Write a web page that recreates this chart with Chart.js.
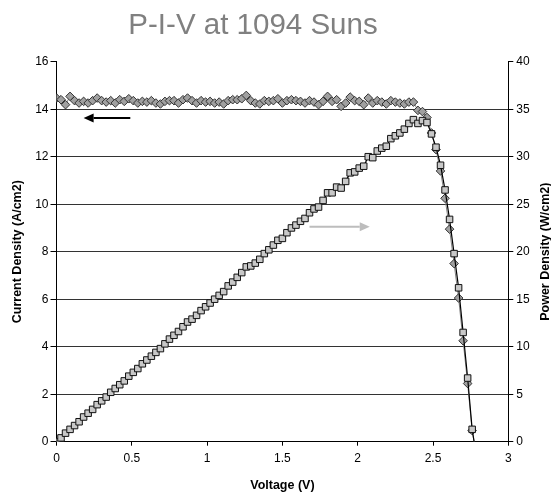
<!DOCTYPE html>
<html lang="en">
<head>
<meta charset="UTF-8">
<title>P-I-V at 1094 Suns</title>
<style>
  body { margin: 0; background: #fff; }
  #wrap { width: 551px; height: 496px; position: relative; }
</style>
</head>
<body>
<div id="wrap"><canvas id="chart"></canvas></div>

<script src="https://cdn.jsdelivr.net/npm/chart.js"></script>
<script>
// Voltage (V) of each measured point
const voltage = [
  0.00, 0.03, 0.06, 0.09, 0.12, 0.15, 0.18, 0.21, 0.24, 0.27,
  0.30, 0.33, 0.36, 0.39, 0.42, 0.45, 0.48, 0.51, 0.54, 0.57,
  0.60, 0.63, 0.66, 0.69, 0.72, 0.75, 0.78, 0.81, 0.84, 0.87,
  0.90, 0.93, 0.96, 0.99, 1.02, 1.05, 1.08, 1.11, 1.14, 1.17,
  1.20, 1.23, 1.26, 1.29, 1.32, 1.35, 1.38, 1.41, 1.44, 1.47,
  1.50, 1.53, 1.56, 1.59, 1.62, 1.65, 1.68, 1.71, 1.74, 1.77,
  1.80, 1.83, 1.86, 1.89, 1.92, 1.95, 1.98, 2.01, 2.04, 2.07,
  2.10, 2.13, 2.16, 2.19, 2.22, 2.25, 2.28, 2.31, 2.34, 2.37,
  2.40, 2.43, 2.46, 2.49, 2.52, 2.55, 2.58, 2.61, 2.64, 2.67,
  2.70, 2.73, 2.76, 2.79
];

// Current density (A/cm2), left axis
const currentDensity = [
  14.47, 14.40, 14.19, 14.54, 14.36, 14.26, 14.33, 14.26, 14.36, 14.47,
  14.36, 14.30, 14.36, 14.26, 14.40, 14.33, 14.44, 14.36, 14.26, 14.33,
  14.30, 14.36, 14.26, 14.22, 14.33, 14.36, 14.36, 14.26, 14.40, 14.47,
  14.36, 14.26, 14.36, 14.30, 14.33, 14.26, 14.30, 14.22, 14.36, 14.40,
  14.40, 14.44, 14.58, 14.36, 14.26, 14.22, 14.36, 14.33, 14.36, 14.44,
  14.26, 14.36, 14.40, 14.36, 14.33, 14.26, 14.36, 14.30, 14.19, 14.33,
  14.54, 14.33, 14.40, 14.12, 14.26, 14.51, 14.36, 14.33, 14.19, 14.47,
  14.26, 14.36, 14.30, 14.22, 14.36, 14.30, 14.26, 14.22, 14.30, 14.30,
  13.95, 13.90, 13.65, 13.00, 12.30, 11.40, 10.25, 8.95, 7.50, 6.05,
  4.25, 2.45, 0.47, -0.60
];

// Power density (W/cm2), right axis
const powerDensity = [
  0.0, 0.4, 0.9, 1.3, 1.7, 2.1, 2.6, 3.0, 3.4, 3.9,
  4.3, 4.7, 5.2, 5.6, 6.0, 6.4, 6.9, 7.3, 7.7, 8.2,
  8.6, 9.0, 9.4, 9.8, 10.3, 10.8, 11.2, 11.6, 12.1, 12.6,
  12.9, 13.3, 13.8, 14.2, 14.6, 15.0, 15.4, 15.8, 16.4, 16.8,
  17.3, 17.8, 18.4, 18.5, 18.8, 19.2, 19.8, 20.2, 20.7, 21.2,
  21.4, 22.0, 22.5, 22.8, 23.2, 23.5, 24.1, 24.5, 24.7, 25.4,
  26.2, 26.2, 26.8, 26.7, 27.4, 28.3, 28.4, 28.8, 29.0, 30.0,
  29.9, 30.6, 30.9, 31.1, 31.9, 32.2, 32.5, 32.9, 33.5, 33.9,
  33.5, 33.8, 33.6, 32.4, 31.0, 29.1, 26.5, 23.4, 19.8, 16.2,
  11.5, 6.7, 1.3, -1.7
];

// axis ranges and steps
const xRange = [0, 3], xStep = 0.5;
const leftRange = [0, 16], leftStep = 2;
const rightRange = [0, 40], rightStep = 5;

// direction arrows, in data units of x and the left axis
const arrows = [
  { x0: 0.49, x1: 0.18, y: 13.63, color: '#000000' },
  { x0: 1.68, x1: 2.08, y: 9.05, color: '#bdbdbd' }
];

const FONT = "'Liberation Sans', Arial, sans-serif";
Chart.defaults.font.family = FONT;
Chart.defaults.font.size = 12;
Chart.defaults.color = '#000';

// arrows, chart title and the right axis title (which reads bottom to top)
const extrasPlugin = {
  id: 'extras',
  afterDatasetsDraw(chart) {
    const ctx = chart.ctx;
    const xs = chart.scales.x, ys = chart.scales.y;
    arrows.forEach(a => {
      const px0 = xs.getPixelForValue(a.x0);
      const px1 = xs.getPixelForValue(a.x1);
      const py = ys.getPixelForValue(a.y);
      const dir = px1 > px0 ? 1 : -1;
      const head = 10, half = 4.5;
      ctx.save();
      ctx.strokeStyle = a.color;
      ctx.fillStyle = a.color;
      ctx.lineWidth = 2;
      ctx.beginPath();
      ctx.moveTo(px0, py);
      ctx.lineTo(px1 - dir * head, py);
      ctx.stroke();
      ctx.beginPath();
      ctx.moveTo(px1, py);
      ctx.lineTo(px1 - dir * head, py - half);
      ctx.lineTo(px1 - dir * head, py + half);
      ctx.closePath();
      ctx.fill();
      ctx.restore();
    });
  },
  afterDraw(chart) {
    const ctx = chart.ctx;
    const area = chart.chartArea;
    ctx.save();
    ctx.fillStyle = '#808080';
    ctx.font = '29.5px ' + FONT;
    ctx.textAlign = 'center';
    ctx.textBaseline = 'alphabetic';
    ctx.fillText('P-I-V at 1094 Suns', 253, 34);
    ctx.restore();

    ctx.save();
    ctx.fillStyle = '#000';
    ctx.font = 'bold 12.5px ' + FONT;
    ctx.textAlign = 'center';
    ctx.textBaseline = 'middle';
    ctx.translate(546, (area.top + area.bottom) / 2);
    ctx.rotate(-Math.PI / 2);
    ctx.fillText('Power Density (W/cm2)', 0, 0);
    ctx.restore();
  }
};

const currentPts = voltage.map((v, i) => ({ x: v, y: currentDensity[i] }));
const powerPts = voltage.map((v, i) => ({ x: v, y: powerDensity[i] }));

new Chart(document.getElementById('chart'), {
  type: 'line',
  data: {
    datasets: [
      {
        label: 'Power Density',
        data: powerPts,
        yAxisID: 'y1',
        borderColor: '#000',
        borderWidth: 1.2,
        pointStyle: 'rect',
        pointRadius: 4.6,
        pointBackgroundColor: '#c8c8c8',
        pointBorderColor: '#111',
        pointBorderWidth: 1,
        tension: 0
      },
      {
        label: 'Current Density',
        data: currentPts,
        yAxisID: 'y',
        borderColor: '#808080',
        borderWidth: 1,
        pointStyle: 'rectRot',
        pointRadius: 4.3,
        pointBackgroundColor: '#a0a0a0',
        pointBorderColor: '#333',
        pointBorderWidth: 1,
        tension: 0
      }
    ]
  },
  options: {
    responsive: true,
    maintainAspectRatio: false,
    animation: false,
    devicePixelRatio: 1,
    layout: { padding: { top: 61.7 } },
    plugins: {
      legend: { display: false },
      tooltip: { enabled: false },
      title: { display: false }
    },
    scales: {
      x: {
        type: 'linear',
        position: 'bottom',
        min: xRange[0], max: xRange[1],
        ticks: { stepSize: xStep, padding: 6, color: '#000', callback: v => String(v) },
        grid: { drawOnChartArea: false, tickLength: 4, tickColor: '#000' },
        border: { color: '#000', width: 1 },
        title: {
          display: true, text: 'Voltage (V)',
          font: { weight: 'bold', size: 12.5 },
          padding: { top: 0, bottom: 3 }
        },
        afterFit(s) { s.height = 54.3; }
      },
      y: {
        position: 'left',
        min: leftRange[0], max: leftRange[1],
        ticks: { stepSize: leftStep, padding: 2, color: '#000' },
        grid: {
          color: c => (c.tick && c.tick.value === leftRange[1]) ? 'rgba(0,0,0,0)' : '#333',
          tickColor: '#000',
          tickLength: 6
        },
        border: { color: '#000', width: 1 },
        title: {
          display: true, text: 'Current Density (A/cm2)',
          font: { weight: 'bold', size: 12.5 },
          padding: { top: 10.5, bottom: 0 }
        },
        afterFit(s) { s.width = 56.5; }
      },
      y1: {
        position: 'right',
        min: rightRange[0], max: rightRange[1],
        ticks: { stepSize: rightStep, padding: 3, color: '#000' },
        grid: { drawOnChartArea: false, tickColor: '#000', tickLength: 5 },
        border: { color: '#000', width: 1 },
        afterFit(s) { s.width = 42.7; }
      }
    }
  },
  plugins: [extrasPlugin]
});
</script>
</body>
</html>
